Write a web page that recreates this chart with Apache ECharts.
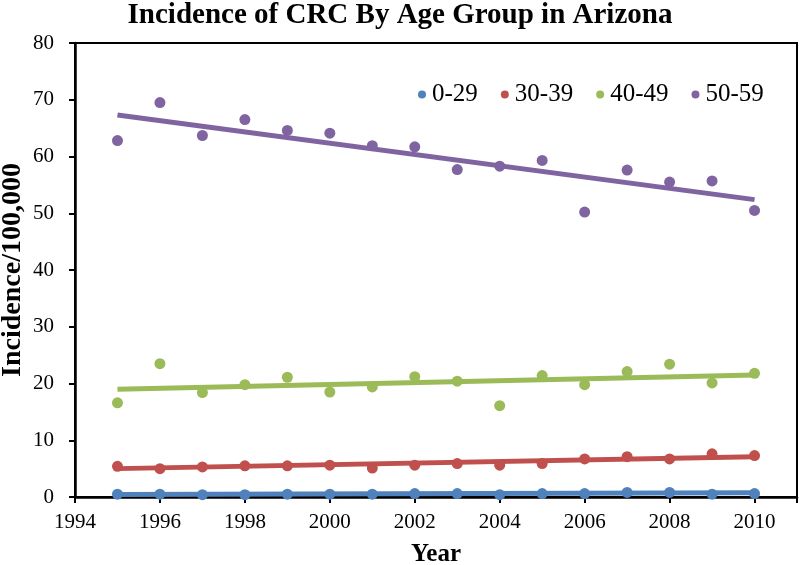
<!DOCTYPE html>
<html>
<head>
<meta charset="utf-8">
<script src="https://cdn.jsdelivr.net/npm/echarts@6/dist/echarts.min.js"></script>
<style>html,body{margin:0;padding:0;background:#fff}#c{width:800px;height:565px}</style>
</head>
<body>
<div id="c"></div>
<script>
const years = [1995,1996,1997,1998,1999,2000,2001,2002,2003,2004,2005,2006,2007,2008,2009,2010];
const groups = ['0-29','30-39','40-49','50-59'];
const g0_29  = [0.5,0.5,0.4,0.4,0.5,0.5,0.5,0.6,0.6,0.4,0.6,0.6,0.8,0.8,0.5,0.6];
const g30_39 = [5.4,5.0,5.3,5.5,5.5,5.6,5.1,5.6,5.9,5.6,5.9,6.7,7.1,6.7,7.6,7.3];
const g40_49 = [16.6,23.5,18.4,19.8,21.1,18.5,19.4,21.2,20.4,16.1,21.4,19.8,22.1,23.4,20.1,21.8];
const g50_59 = [62.8,69.5,63.7,66.5,64.6,64.1,61.9,61.7,57.7,58.3,59.3,50.2,57.6,55.5,55.7,50.5];
// linear trend lines: value at first year and last year
const trendStart = [0.45, 5.0, 19.0, 67.3];
const trendEnd   = [0.75, 7.1, 21.5, 52.4];
const xTicks = [1994,1996,1998,2000,2002,2004,2006,2008,2010];

const colors = ['#4F81BD','#C0504D','#9BBB59','#8064A2'];
const values = [g0_29, g30_39, g40_49, g50_59];
const serif = '"Liberation Serif","Times New Roman",serif';

const series = [];
groups.forEach((g, i) => {
  series.push({
    name: g + ' trend', type: 'line', silent: true,
    data: [[years[0], trendStart[i]], [years[years.length-1], trendEnd[i]]],
    symbol: 'none', lineStyle: {color: colors[i], width: 5}, z: 2
  });
  series.push({
    name: g, type: 'scatter', symbol: 'circle', symbolSize: 11,
    itemStyle: {color: colors[i], opacity: 1},
    data: years.map((y, k) => [y, values[i][k]]), z: 3
  });
});

const chart = echarts.init(document.getElementById('c'), null, {renderer: 'canvas'});
chart.setOption({
  animation: false,
  backgroundColor: '#fff',
  color: colors,
  title: {
    text: 'Incidence of CRC By Age Group in Arizona',
    left: 'center', top: 1, padding: 0,
    textStyle: {fontFamily: serif, fontWeight: 'bold', fontSize: 29, color: '#000'}
  },
  legend: {
    data: groups, icon: 'circle', itemWidth: 8, itemHeight: 8, itemGap: 23,
    left: 413, top: 77,
    textStyle: {fontFamily: serif, fontSize: 25, color: '#000', padding: [0,0,0,1]}
  },
  grid: {left: 75, right: 3, top: 43, bottom: 68, containLabel: false, outerBoundsMode: 'none',
         show: true, borderColor: '#000', borderWidth: 2, backgroundColor: 'transparent'},
  xAxis: {
    type: 'value', min: 1994, max: 2011, interval: 2,
    name: 'Year', nameLocation: 'middle', nameGap: 45, nameMoveOverlap: false,
    nameTextStyle: {fontFamily: serif, fontWeight: 'bold', fontSize: 25, color: '#000'},
    axisLine: {show: true, lineStyle: {color: '#000', width: 2.5}},
    axisTick: {show: true, length: 6, lineStyle: {color: '#000', width: 2}},
    axisLabel: {
      margin: 15, fontFamily: serif, fontSize: 21, color: '#000',
      formatter: v => xTicks.indexOf(v) >= 0 ? String(v) : ''
    },
    splitLine: {show: false}
  },
  yAxis: {
    type: 'value', min: 0, max: 80, interval: 10,
    name: 'Incidence/100,000', nameLocation: 'middle', nameGap: 48, nameRotate: 90, nameMoveOverlap: false,
    nameTextStyle: {fontFamily: serif, fontWeight: 'bold', fontSize: 28, color: '#000'},
    axisLine: {show: true, lineStyle: {color: '#000', width: 2.5}},
    axisTick: {show: true, length: 6, lineStyle: {color: '#000', width: 2}},
    axisLabel: {margin: 21, fontFamily: serif, fontSize: 21, color: '#000'},
    splitLine: {show: false}
  },
  series: series
});
</script>
</body>
</html>
